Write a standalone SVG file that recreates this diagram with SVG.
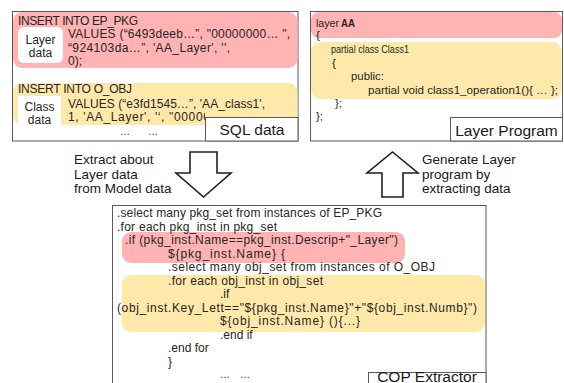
<svg xmlns="http://www.w3.org/2000/svg" width="564" height="383" viewBox="0 0 564 383">
  <style>
    .box { fill: #ffffff; stroke: #5a5a5a; stroke-width: 1; }
    .tag { fill: #ffffff; stroke: #5a5a5a; stroke-width: 1; }
    .red { fill: #ffb3b3; }
    .yel { fill: #ffe9aa; }
    .chip { fill: #ffffff; }
    .t { font-family: "Liberation Sans", Arial, sans-serif; fill: #262626; }
    .sql { font-size: 12px; }
    .lp { font-size: 11.5px; }
    .code { font-size: 12px; }
    .cap { font-size: 15.5px; fill: #1a1a1a; }
    .note { font-size: 13.5px; fill: #1a1a1a; }
    .blk { fill: #ffffff; stroke: #1f1f1f; stroke-width: 1.6; stroke-linejoin: miter; }
  </style>
  <defs>
    <clipPath id="sqlClip"><rect x="12" y="100" width="193" height="30"/></clipPath>
  </defs>

  <!-- SQL data panel -->
  <g id="sql-data">
    <rect class="box" x="12.5" y="11.5" width="285.5" height="129.5"/>
    <rect class="red" x="13" y="12" width="284.5" height="56" rx="9"/>
    <rect class="yel" x="13" y="83" width="284.5" height="42" rx="9"/>
    <rect class="chip" x="18" y="27" width="45" height="36" rx="6"/>
    <rect class="chip" x="18" y="96" width="43" height="29"/>
    <rect class="chip" x="18" y="96" width="43" height="20" rx="6"/>
    <g class="t sql">
      <text x="18" y="25" textLength="120">INSERT INTO EP_PKG</text>
      <text x="68" y="38" textLength="222">VALUES (“6493deeb…”, "00000000… ",</text>
      <text x="68" y="51.5" textLength="162">“924103da…”, 'AA_Layer', '',</text>
      <text x="68" y="65">0);</text>
      <text x="40.5" y="44" text-anchor="middle">Layer</text>
      <text x="40.5" y="57" text-anchor="middle">data</text>
      <text x="18" y="92.5" textLength="114">INSERT INTO O_OBJ</text>
      <text x="68" y="108" textLength="197">VALUES (“e3fd1545…”, 'AA_class1',</text>
      <text x="68" y="121" textLength="190" clip-path="url(#sqlClip)">1, 'AA_Layer', '‘, "00000000…");</text>
      <text x="39.5" y="111" text-anchor="middle">Class</text>
      <text x="39.5" y="123.5" text-anchor="middle">data</text>
      <text x="120" y="135" font-size="10">…</text>
      <text x="148" y="135" font-size="10">…</text>
    </g>
    <rect class="tag" x="205.5" y="117.5" width="92.5" height="23.5"/>
    <text class="t cap" x="252" y="135" text-anchor="middle">SQL data</text>
  </g>

  <!-- Layer Program panel -->
  <g id="layer-program">
    <rect class="box" x="310.5" y="11.5" width="252" height="129.5"/>
    <rect class="red" x="311" y="12" width="251" height="26" rx="8"/>
    <rect class="yel" x="311" y="42" width="250.5" height="57" rx="9"/>
    <g class="t lp">
      <text x="316" y="27" textLength="23" lengthAdjust="spacingAndGlyphs">layer</text>
      <text x="341" y="27" font-weight="bold" textLength="14" lengthAdjust="spacingAndGlyphs">AA</text>
      <text x="316" y="39">{</text>
      <text x="331" y="53" textLength="78" lengthAdjust="spacingAndGlyphs">partial class Class1</text>
      <text x="332" y="66.5">{</text>
      <text x="351" y="80" textLength="33" lengthAdjust="spacingAndGlyphs">public:</text>
      <text x="368" y="93.5" textLength="190" lengthAdjust="spacingAndGlyphs">partial void class1_operation1(){ … };</text>
      <text x="335" y="107">};</text>
      <text x="316" y="120">};</text>
    </g>
    <rect class="tag" x="450.5" y="117.5" width="112" height="23.5"/>
    <text class="t cap" x="506.5" y="135.5" text-anchor="middle">Layer Program</text>
  </g>

  <!-- COP Extractor panel -->
  <g id="cop-extractor">
    <rect class="box" x="112.5" y="205.5" width="373.5" height="190"/>
    <rect class="red" x="122" y="232" width="283" height="31" rx="9"/>
    <rect class="yel" x="122" y="275" width="363" height="57" rx="9"/>
    <g class="t code">
      <text x="117" y="217" textLength="265">.select many pkg_set from instances of EP_PKG</text>
      <text x="117" y="230.5" textLength="160">.for each pkg_inst in pkg_set</text>
      <text x="125" y="244" textLength="273">.if (pkg_inst.Name==pkg_inst.Descrip+"_Layer")</text>
      <text x="168" y="257.5" textLength="117">${pkg_inst.Name} {</text>
      <text x="168" y="271" textLength="267">.select many obj_set from instances of O_OBJ</text>
      <text x="168" y="284.5" textLength="155">.for each obj_inst in obj_set</text>
      <text x="220" y="298">.if</text>
      <text x="117" y="311.5" textLength="360">(obj_inst.Key_Lett=="${pkg_inst.Name}"+"${obj_inst.Numb}")</text>
      <text x="220" y="325" textLength="140">${obj_inst.Name} (){...}</text>
      <text x="220" y="338.5">.end if</text>
      <text x="168" y="352">.end for</text>
      <text x="168" y="365.5">}</text>
      <text x="220" y="378" font-size="10">…</text>
      <text x="240" y="378" font-size="10">…</text>
    </g>
    <rect class="tag" x="368.5" y="372.5" width="117.5" height="20"/>
    <text class="t cap" x="427" y="381.5" text-anchor="middle" font-size="13.5">COP Extractor</text>
  </g>

  <!-- Flow arrows between panels -->
  <g id="connectors">
    <polygon class="blk" points="190,152 217,152 217,173 231,173 203.5,197 176,173 190,173"/>
    <polygon class="blk" points="392.5,152 418,173 403,173 403,197 382,197 382,173 367,173"/>
  </g>

  <g id="labels" class="t note">
    <text x="74" y="164">Extract about</text>
    <text x="74" y="178.5">Layer data</text>
    <text x="74" y="193">from Model data</text>
    <text x="422" y="164">Generate Layer</text>
    <text x="422" y="178.5">program by</text>
    <text x="422" y="193">extracting data</text>
  </g>
</svg>
